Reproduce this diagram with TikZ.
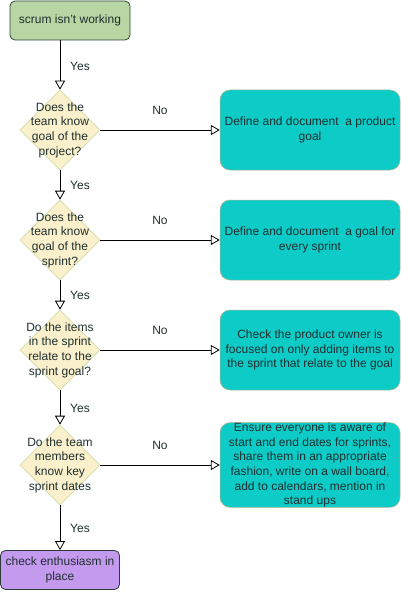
\documentclass[tikz,border=0pt]{standalone}
\usepackage{fontspec}
\setmainfont{Liberation Sans}
\usetikzlibrary{shapes.geometric,arrows.meta}
\definecolor{startfill}{HTML}{B9D5A3}
\definecolor{startdraw}{HTML}{2D4A36}
\definecolor{decfill}{HTML}{FAF0CC}
\definecolor{decdraw}{HTML}{D2DCA8}
\definecolor{actfill}{HTML}{0DCCC8}
\definecolor{actdraw}{HTML}{B3B38A}
\definecolor{endfill}{HTML}{C49AEF}
\definecolor{enddraw}{HTML}{2B3A3A}
\definecolor{txt}{HTML}{1F2F2F}
\begin{document}
\begin{tikzpicture}[x=1pt,y=-1pt,
  every node/.style={font=\fontsize{12}{14.7}\selectfont, text=txt},
  startbox/.style={draw=startdraw, fill=startfill, rounded corners=5pt, minimum width=120pt, minimum height=39pt, inner sep=0pt, line width=0.8pt},
  endbox/.style={draw=enddraw, fill=endfill, rounded corners=5pt, minimum width=119pt, minimum height=39pt, inner sep=0pt, line width=0.8pt, align=center},
  dec/.style={shape=diamond, draw=decdraw, fill=decfill, minimum width=80pt, minimum height=80pt, inner sep=0pt, line width=0.6pt},
  dectext/.style={align=center, inner sep=0pt},
  actbox/.style={draw=actdraw, fill=actfill, rounded corners=10pt, minimum width=180pt, minimum height=80pt, inner sep=0pt, line width=0.5pt, align=center},
  arr/.style={draw=black, line width=0.8pt, -{Triangle[open, length=9pt, width=10pt, fill=white]}},
  lbl/.style={inner sep=0pt}
]
\useasboundingbox (0,0) rectangle (401,591);

\node[startbox] (s) at (70,20.5) {scrum isn't working};

\node[dec] (d1) at (60,130) {};
\node[dectext] (t1) at (60,130) {Does the\\team know\\goal of the\\project?};
\node[dec] (d2) at (60,240) {};
\node[dectext] (t2) at (60,240) {Does the\\team know\\goal of the\\sprint?};
\node[dec] (d3) at (60,350) {};
\node[dectext] (t3) at (60,350) {Do the items\\in the sprint\\relate to the\\sprint goal?};
\node[dec] (d4) at (60,465) {};
\node[dectext] (t4) at (60,465) {Do the team\\members\\know key\\sprint dates};

\node[endbox] (e) at (60,570) {check enthusiasm in\\place};

\node[actbox] (b1) at (310,130) {Define and document\ \ a product\\goal};
\node[actbox] (b2) at (310,240) {Define and document\ \ a goal for\\every sprint};
\node[actbox] (b3) at (310,350) {Check the product owner is\\focused on only adding items to\\the sprint that relate to the goal};
\node[actbox] (b4) at (310,465) {Ensure everyone is aware of\\start and end dates for sprints,\\share them in an appropriate\\fashion, write on a wall board,\\add to calendars, mention in\\stand ups};

\draw[arr] (s.south -| d1.north) -- (d1.north);
\draw[arr] (d1.south) -- (d2.north);
\draw[arr] (d2.south) -- (d3.north);
\draw[arr] (d3.south) -- (d4.north);
\draw[arr] (d4.south) -- (e.north);

\draw[arr] (d1.east) -- (b1.west);
\draw[arr] (d2.east) -- (b2.west);
\draw[arr] (d3.east) -- (b3.west);
\draw[arr] (d4.east) -- (b4.west);

\node[lbl] (y1) at (80,66) {Yes};
\node[lbl] (y2) at (80,185) {Yes};
\node[lbl] (y3) at (80,295) {Yes};
\node[lbl] (y4) at (80,408) {Yes};
\node[lbl] (y5) at (80,528) {Yes};

\node[lbl] (n1) at (160,110) {No};
\node[lbl] (n2) at (160,220) {No};
\node[lbl] (n3) at (160,330) {No};
\node[lbl] (n4) at (160,445) {No};
\end{tikzpicture}
\end{document}
